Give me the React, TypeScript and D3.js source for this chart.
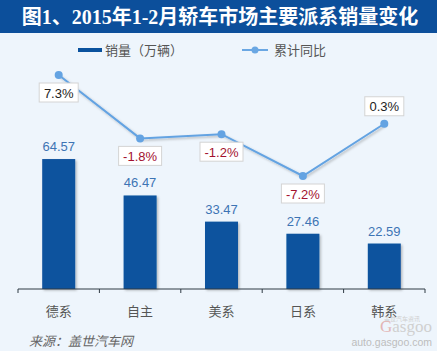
import React from "react";
import * as d3 from "d3";

const categories = ["德系", "自主", "美系", "日系", "韩系"];
const sales = [64.57, 46.47, 33.47, 27.46, 22.59];
const growth = [7.3, -1.8, -1.2, -7.2, 0.3];
const labelAbove = [false, false, false, false, true];

const W = 437;
const H = 351;
const baseY = 289;

function App() {
  const x = d3.scaleBand<string>().domain(categories).range([18, 425]).padding(0);
  const ySales = d3.scaleLinear().domain([0, 80]).range([baseY, baseY - 161]);
  const yGrowth = d3.scaleLinear().domain([-7.2, 7.3]).range([176, 75]);

  const cx = (c: string) => (x(c) || 0) + x.bandwidth() / 2;
  const barW = 33;

  const line = d3
    .line<number>()
    .x((_, i) => cx(categories[i]))
    .y((d) => yGrowth(d));

  const ticks = [...categories.map((c) => x(c) || 0), 425];

  return (
    <svg
      width={W}
      height={H}
      style={{ position: "fixed", left: 0, top: 0, display: "block" }}
      fontFamily="'Liberation Sans', 'Noto Sans CJK SC', sans-serif"
    >
      <defs>
        <filter id="sh" x="-20%" y="-20%" width="150%" height="150%">
          <feDropShadow dx="1.5" dy="1.5" stdDeviation="1.2" floodColor="#000" floodOpacity="0.25" />
        </filter>
      </defs>
      <rect width={W} height={H} fill="#eef5fc" />
      <rect width={W} height={33} fill="#0c4f9b" />
      <text
        x={220}
        y={24}
        textAnchor="middle"
        fill="#fff"
        fontSize={20}
        fontWeight="bold"
        fontFamily="'Liberation Serif', 'Noto Sans CJK SC', serif"
      >
        图1、2015年1-2月轿车市场主要派系销量变化
      </text>

      {/* legend */}
      <rect x={78} y={48} width={24} height={4} fill="#0a529e" />
      <text x={105} y={55} fontSize={13} fill="#555">销量（万辆）</text>
      <line x1={242} y1={50} x2={268} y2={50} stroke="#6aa7e3" strokeWidth={2} />
      <circle cx={255} cy={50} r={3.5} fill="#6aa7e3" />
      <text x={274} y={55} fontSize={13} fill="#555">累计同比</text>

      {/* bars */}
      {categories.map((c, i) => (
        <g key={c}>
          <rect
            x={cx(c) - barW / 2}
            y={ySales(sales[i])}
            width={barW}
            height={baseY - ySales(sales[i])}
            fill="#0a529e"
            filter="url(#sh)"
          />
          <text
            x={cx(c)}
            y={ySales(sales[i]) - 8}
            textAnchor="middle"
            fontSize={13}
            fill="#3d74b4"
          >
            {sales[i].toFixed(2)}
          </text>
          <text x={cx(c)} y={316} textAnchor="middle" fontSize={13} fill="#555">
            {c}
          </text>
        </g>
      ))}

      {/* axis */}
      <line x1={18} y1={baseY} x2={425} y2={baseY} stroke="#2f3b45" strokeWidth={1} />
      {ticks.map((t, i) => (
        <line key={i} x1={t} y1={baseY} x2={t} y2={baseY + 4} stroke="#2f3b45" strokeWidth={1} />
      ))}

      {/* growth line */}
      <path d={line(growth) || ""} fill="none" stroke="#64a3e2" strokeWidth={2} filter="url(#sh)" />
      {growth.map((g, i) => {
        const px = cx(categories[i]);
        const py = yGrowth(g);
        const label = `${g.toFixed(1)}%`;
        const bw = g < 0 ? 43 : 39;
        const bh = 19;
        const by = labelAbove[i] ? py - 8 - bh : py + 8;
        return (
          <g key={i}>
            <circle cx={px} cy={py} r={4} fill="#64a3e2" />
            <rect x={px - bw / 2} y={by} width={bw} height={bh} fill="#fff" stroke="#d4d4d4" strokeWidth={1} />
            <text
              x={px}
              y={by + 14.5}
              textAnchor="middle"
              fontSize={13}
              fill={g < 0 ? "#a3112e" : "#222"}
            >
              {label}
            </text>
          </g>
        );
      })}

      {/* source */}
      <text x={29} y={346} fontSize={13} fill="#666" fontStyle="italic">来源：盖世汽车网</text>

      {/* watermark */}
      <text x={420} y={321} textAnchor="end" fontSize={6} fill="#cfcfcf">盖世汽车资讯</text>
      <text x={432} y={332} textAnchor="end" fontSize={17} fill="#d0d0d0" fontFamily="'Liberation Serif', serif">
        <tspan fill="#e3b5b5">G</tspan>asgoo
      </text>
      <text x={432} y={346} textAnchor="end" fontSize={10.5} fill="#bdbdbd">auto.gasgoo.com</text>
    </svg>
  );
}

export default App;
